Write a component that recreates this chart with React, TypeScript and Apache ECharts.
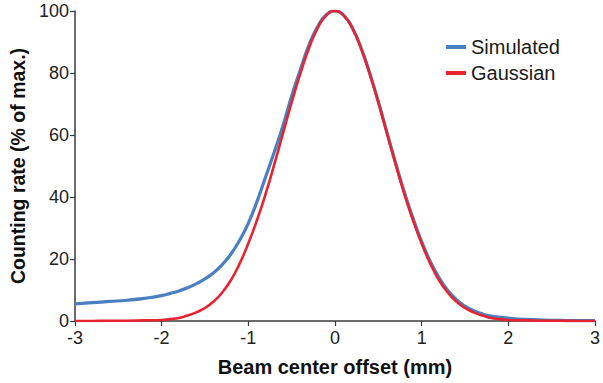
import React, { useEffect, useRef } from "react";
import * as echarts from "echarts";

// Beam center offset (mm)
const offsets = [
  -3.0, -2.8, -2.6, -2.4, -2.2, -2.0, -1.9, -1.8, -1.7, -1.6, -1.5, -1.4, -1.3, -1.2, -1.1,
  -1.0, -0.9, -0.8, -0.7, -0.6, -0.5, -0.4, -0.3, -0.2, -0.1, 0.0, 0.1, 0.2, 0.3, 0.4, 0.5,
  0.6, 0.7, 0.8, 0.9, 1.0, 1.1, 1.2, 1.3, 1.4, 1.5, 1.6, 1.7, 1.8, 1.9, 2.0, 2.2, 2.4, 2.6,
  2.8, 3.0,
];

// Counting rate (% of max.), simulated profile
const simulated = [
  5.5, 5.9, 6.3, 6.7, 7.3, 8.2, 8.9, 9.7, 10.7, 12.0, 13.6, 15.6, 18.2, 21.6, 26.0,
  31.5, 38.5, 46.5, 54.5, 63.0, 72.5, 81.0, 89.0, 95.0, 98.8, 100.0, 98.6, 94.6, 88.2, 80.0, 70.8,
  60.8, 51.0, 41.6, 33.2, 25.6, 19.2, 14.0, 9.9, 6.9, 4.8, 3.3, 2.3, 1.6, 1.2, 0.9, 0.5, 0.3, 0.2,
  0.1, 0.1,
];

// Counting rate (% of max.), Gaussian fit
const gaussian = [
  0.0, 0.0, 0.1, 0.1, 0.2, 0.3, 0.6, 1.0, 1.8, 2.8, 4.2, 6.3, 9.2, 13.2, 18.5,
  25.0, 32.5, 41.0, 50.5, 60.5, 70.5, 79.8, 88.0, 94.5, 98.6, 100.0, 98.6, 94.5, 88.0, 79.8, 70.5,
  60.5, 50.5, 41.0, 32.5, 25.0, 18.5, 13.2, 9.2, 6.3, 4.2, 2.8, 1.8, 1.0, 0.6, 0.3, 0.2, 0.1, 0.1,
  0.0, 0.0,
];

const xTicks = { min: -3, max: 3, step: 1 };
const yTicks = { min: 0, max: 100, step: 20 };

const FONT = "Liberation Sans, Arial, sans-serif";

export default function App() {
  const ref = useRef<HTMLDivElement>(null);

  useEffect(() => {
    if (!ref.current) return;
    const chart = echarts.init(ref.current, undefined, { renderer: "svg" });
    const axisLine = { show: true, onZero: false, lineStyle: { color: "#3a3a3a", width: 1.5 } };
    const axisTick = { show: true, inside: false, length: 5, lineStyle: { color: "#3a3a3a", width: 1.2 } };
    chart.setOption({
      animation: false,
      backgroundColor: "#ffffff",
      grid: { left: 74, right: 6, top: 11, bottom: 62 },
      legend: {
        left: 441,
        top: 32,
        orient: "vertical",
        icon: "rect",
        itemWidth: 20,
        itemHeight: 4,
        itemGap: 6,
        textStyle: { fontFamily: FONT, fontSize: 20, color: "#1a1a1a" },
        data: ["Simulated", "Gaussian"],
      },
      xAxis: {
        type: "value",
        min: xTicks.min,
        max: xTicks.max,
        interval: xTicks.step,
        name: "Beam center offset (mm)",
        nameLocation: "middle",
        nameGap: 36,
        nameTextStyle: { fontFamily: FONT, fontSize: 20, fontWeight: "bold", color: "#111" },
        axisLine,
        axisTick,
        axisLabel: { fontFamily: FONT, fontSize: 18, color: "#222", margin: 8 },
        splitLine: { show: false },
      },
      yAxis: {
        type: "value",
        min: yTicks.min,
        max: yTicks.max,
        interval: yTicks.step,
        name: "Counting rate (% of max.)",
        nameLocation: "middle",
        nameGap: 46,
        nameTextStyle: { fontFamily: FONT, fontSize: 19.5, fontWeight: "bold", color: "#111" },
        axisLine,
        axisTick,
        axisLabel: { fontFamily: FONT, fontSize: 18, color: "#222", margin: 6 },
        splitLine: { show: false },
      },
      series: [
        {
          name: "Simulated",
          type: "line",
          smooth: true,
          showSymbol: false,
          data: offsets.map((x, i) => [x, simulated[i]]),
          itemStyle: { color: "#4a7fc1" },
          lineStyle: { color: "#4a7fc1", width: 3.2 },
        },
        {
          name: "Gaussian",
          type: "line",
          smooth: true,
          showSymbol: false,
          data: offsets.map((x, i) => [x, gaussian[i]]),
          itemStyle: { color: "#e8232f" },
          lineStyle: { color: "#e8232f", width: 2.6 },
        },
      ],
    });
    return () => chart.dispose();
  }, []);

  return (
    <div
      ref={ref}
      style={{ position: "absolute", left: 0, top: 0, width: 603, height: 383 }}
    />
  );
}
